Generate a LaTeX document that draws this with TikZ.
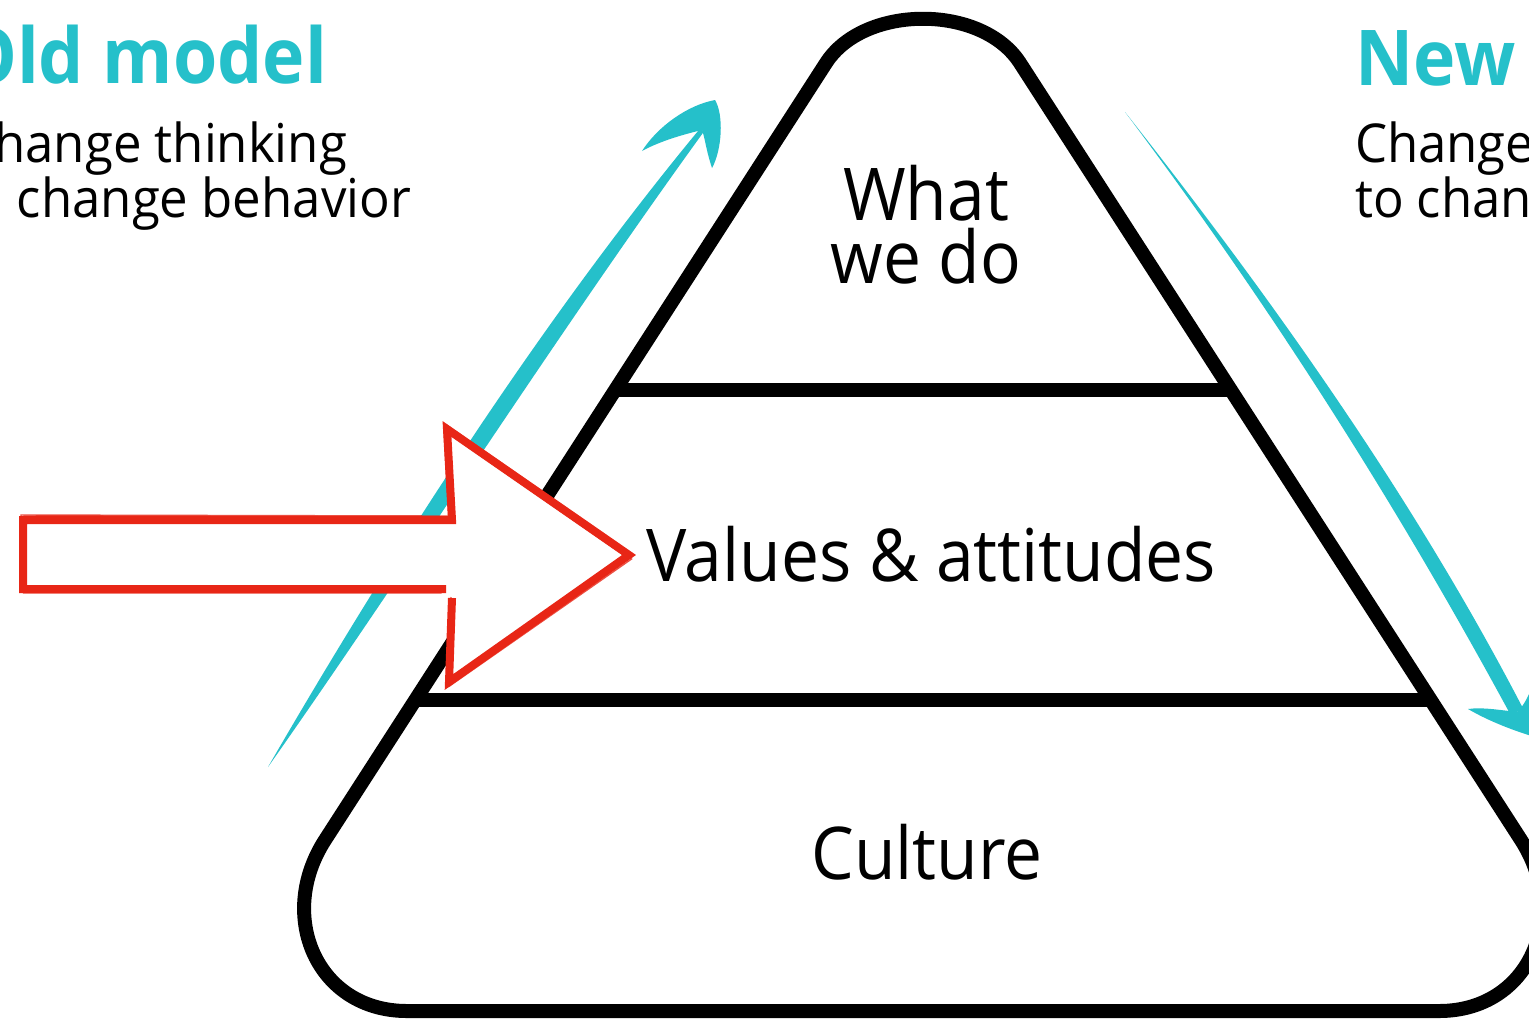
\documentclass[tikz,border=0pt]{standalone}
\usepackage{fontspec}
\newfontfamily\fs{Open Sans}[FakeStretch=0.93]
\newfontfamily\fsb{Open Sans}[FakeStretch=0.95]
\definecolor{tealc}{RGB}{37,192,202}
\definecolor{redsk}{RGB}{232,38,22}
\begin{document}
\begin{tikzpicture}[x=0.5pt,y=-0.5pt,
  txt/.style={inner sep=0pt, outer sep=0pt, font=\fs},
  bigtxt/.style={txt, font=\fs\fontsize{36.4}{36.4}\selectfont},
  bodytxt/.style={txt, font=\fsb\fontsize{26.8}{26.8}\selectfont},
  headtxt/.style={txt, text=tealc, font=\fs\bfseries\fontsize{38.5}{38.5}\selectfont},
  pyr/.style={draw=black, line width=7pt, line join=round},
  tealfill/.style={fill=tealc, draw=none},
  redline/.style={draw=redsk, line width=4pt, line join=miter},
  redthin/.style={draw=redsk, line width=0.7pt, opacity=0.8}]
\useasboundingbox (0,0) rectangle (1529,1019);
\clip (0,0) rectangle (1529,1019);
\fill[white] (0,0) rectangle (1529,1019);

% teal arrow left (upward)
\coordinate (lS) at (268,767);
\coordinate (lJ) at (702,130);
\fill[tealfill] (lS) .. controls (387.3,561) and (538.3,324) .. (700,128.6)
  -- (704,131.4) .. controls (555.7,336) and (404.7,573) .. (lS) -- cycle;
\fill[tealfill] (lJ) .. controls (685,134) and (660,141) .. (642,151)
  .. controls (658,126) and (688,105) .. (715,100)
  .. controls (724,115) and (722,150) .. (712,168)
  .. controls (706,150) and (705,138) .. (lJ) -- cycle;

% teal arrow right (downward)
\coordinate (rS) at (1125,112);
\coordinate (rJ) at (1517,712);
\fill[tealfill] (rS) .. controls (1281.5,310.4) and (1418.5,507.1) .. (1522.9,708.2)
  -- (1511.1,715.8) .. controls (1403.5,516.9) and (1276.5,313.6) .. (rS) -- cycle;
\fill[tealfill] (rJ) .. controls (1500,710) and (1482,707) .. (1468,709)
  .. controls (1492,723) and (1520,733) .. (1548,741)
  .. controls (1550,715) and (1545,690) .. (1538,668)
  .. controls (1532,690) and (1525,705) .. (rJ) -- cycle;

% pyramid
\draw[pyr] (826,63) .. controls (864,4) and (982,4) .. (1020,63)
  -- (1521,840) .. controls (1570,916) and (1529,1011) .. (1439,1011)
  -- (407,1011) .. controls (317,1011) and (276,916) .. (325,840) -- cycle;
\coordinate (d1l) at (615,390);
\coordinate (d1r) at (1231,390);
\coordinate (d2l) at (415,700);
\coordinate (d2r) at (1431,700);
\draw[pyr] (d1l) -- (d1r);
\draw[pyr] (d2l) -- (d2r);

% texts
\node[txt, align=center, anchor=base, font=\fs\fontsize{36.4}{31.5}\selectfont]
  (what) at (926,283) {What\\we do};
\node[bigtxt, anchor=base] (values) at (931,581) {Values \& attitudes};
\node[bigtxt, anchor=base] (culture) at (927,879) {Culture};

\node[headtxt, anchor=base east] (oldT) at (327,83) {Old model};
\node[bodytxt, anchor=base east] (oldA) at (347,162) {Change thinking};
\node[bodytxt, anchor=base east] (oldB) at (411,217) {to change behavior};

\node[headtxt, anchor=base west] (newT) at (1355,85) {New model};
\node[bodytxt, anchor=base west] (newA) at (1355,162) {Change behavior};
\node[bodytxt, anchor=base west] (newB) at (1355,217) {to change thinking};

% red sketchy arrow
\fill[white] (452,520) -- (447,429) -- (629,555) -- (449,682) -- (452,589)
  -- (23,589) -- (23,520) -- cycle;
\draw[redline] (452,598) -- (449,682) -- (629,555) -- (447,429) -- (452,520)
  -- (23,520) -- (23,589) -- (446,589);
\foreach \dx/\dy in {2/-2,-2/2,1.5/3,-1/-3} {
  \draw[redthin, shift={(\dx*0.5pt,-\dy*0.5pt)}]
    (452,600) -- (448,683) -- (630,556) -- (446,428) -- (451,519)
    -- (22,518) -- (22,590) -- (440,590);
}
\end{tikzpicture}
\end{document}
